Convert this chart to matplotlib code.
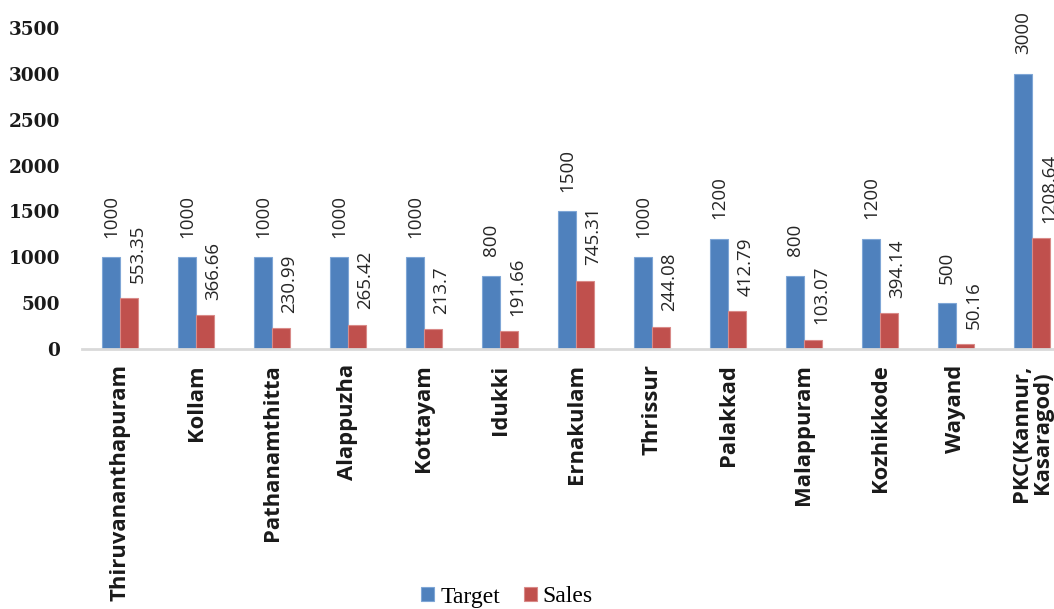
import matplotlib
matplotlib.use("Agg")
import matplotlib.pyplot as plt
import numpy as np

districts = ["Thiruvananthapuram", "Kollam", "Pathanamthitta", "Alappuzha", "Kottayam",
             "Idukki", "Ernakulam", "Thrissur", "Palakkad", "Malappuram", "Kozhikkode",
             "Wayand", "PKC(Kannur,\nKasaragod)"]
target = [1000, 1000, 1000, 1000, 1000, 800, 1500, 1000, 1200, 800, 1200, 500, 3000]
sales = [553.35, 366.66, 230.99, 265.42, 213.7, 191.66, 745.31, 244.08, 412.79, 103.07, 394.14, 50.16, 1208.64]
target_labels = ["1000", "1000", "1000", "1000", "1000", "800", "1500", "1000", "1200", "800", "1200", "500", "3000"]
sales_labels = ["553.35", "366.66", "230.99", "265.42", "213.7", "191.66", "745.31", "244.08", "412.79", "103.07", "394.14", "50.16", "1208.64"]
yticks = [0, 500, 1000, 1500, 2000, 2500, 3000, 3500]

W, H = 1054, 609
fig = plt.figure(figsize=(W / 100, H / 100), dpi=100)
ax = fig.add_axes([82 / W, 260 / H, 988 / W, 321 / H])

blue = "#4F81BD"
red = "#C0504D"
x = np.arange(len(districts))
bw = 0.237
b1 = ax.bar(x - bw / 2, target, bw, color=blue, edgecolor="#7FA6D6", linewidth=0.8, label="Target", zorder=2)
b2 = ax.bar(x + bw / 2, sales, bw, color=red, edgecolor="#D98A88", linewidth=0.8, label="Sales", zorder=2)

ax.set_xlim(-0.5, len(districts) - 0.5)
ax.set_ylim(0, 3500)
ax.set_yticks(yticks)
ax.set_yticklabels([str(v) for v in yticks], fontfamily="DejaVu Serif", fontweight="bold",
                   fontsize=13.3, color="#1a1a1a")
ax.set_xticks(x)
ax.set_xticklabels(districts, rotation=90, fontfamily="Open Sans", fontweight="bold",
                   fontsize=15.8, color="#1a1a1a", va="top", ha="center", linespacing=0.95)
ax.tick_params(axis="both", length=0)
ax.tick_params(axis="y", pad=16)
ax.tick_params(axis="x", pad=11)
for s in ["top", "right", "left"]:
    ax.spines[s].set_visible(False)
ax.spines["bottom"].set_color("#D9D9D9")
ax.spines["bottom"].set_linewidth(2)

lab_kw = dict(rotation=90, fontfamily="Open Sans", fontsize=13.5, color="#262626",
              ha="center", va="bottom", textcoords="offset points")
for i in range(len(x)):
    ax.annotate(target_labels[i], (x[i] - bw / 2, target[i]), xytext=(0, 14), **lab_kw)
    ax.annotate(sales_labels[i], (x[i] + bw / 2, sales[i]), xytext=(6, 11), **lab_kw)

fig.legend(handles=[b1, b2], labels=["Target", "Sales"], loc="center",
           bbox_to_anchor=(507 / W, 1 - 597 / H), ncol=2, frameon=False,
           prop={"family": "Liberation Serif", "size": 17}, handlelength=0.55,
           handleheight=0.55, handletextpad=0.25, columnspacing=1.0, borderpad=0)

fig.savefig("out.png", dpi=100)
